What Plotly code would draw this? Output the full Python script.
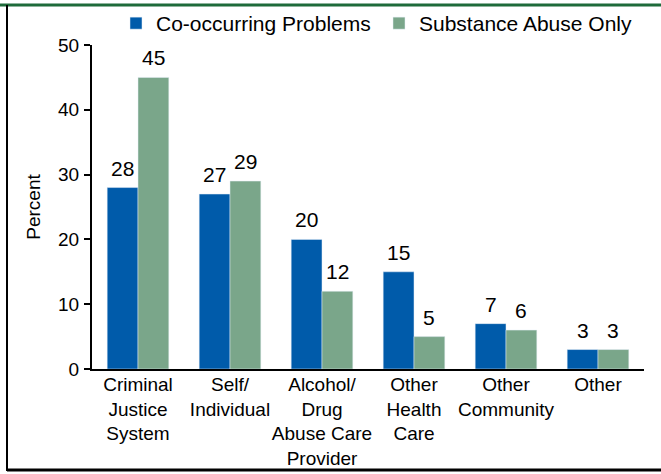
import plotly.graph_objects as go

categories = ["Criminal<br>Justice<br>System", "Self/<br>Individual",
              "Alcohol/<br>Drug<br>Abuse Care<br>Provider", "Other<br>Health<br>Care",
              "Other<br>Community", "Other"]
co_occurring = [28, 27, 20, 15, 7, 3]
substance_only = [45, 29, 12, 5, 6, 3]
series_names = ["Co-occurring Problems", "Substance Abuse Only"]
y_ticks = [0, 10, 20, 30, 40, 50]
y_title = "Percent"

BLUE = "#005BAA"
GREEN = "#7AA68A"
FONT = "Liberation Sans, Arial, sans-serif"

W, H = 661, 474
ML, MR, MT, MB = 92, 17, 45, 105
pw = W - ML - MR
ph = H - MT - MB
BARGAP = 0.33
HALF_BAR_PX = pw / len(categories) * (1 - BARGAP) / 4

def px_x(p):
    return (p - ML) / pw

def px_y(p):
    return (H - MB - p) / ph

fig = go.Figure()
for vals, name, color, sign in [(co_occurring, series_names[0], BLUE, -1),
                                (substance_only, series_names[1], GREEN, 1)]:
    fig.add_trace(go.Bar(x=categories, y=vals, name=name, marker_color=color,
                         cliponaxis=False))
    for c, v in zip(categories, vals):
        fig.add_annotation(x=c, y=v, text=str(v), showarrow=False,
                           xshift=sign * HALF_BAR_PX, yshift=6, yanchor="bottom",
                           font=dict(size=21, color="black"))

fig.update_layout(
    width=W, height=H,
    margin=dict(l=ML, r=MR, t=MT, b=MB, autoexpand=False),
    paper_bgcolor="white", plot_bgcolor="white",
    font=dict(family=FONT, size=20, color="black"),
    barmode="group", bargap=BARGAP, bargroupgap=0,
    showlegend=True,
    legend=dict(orientation="h", x=px_x(116), y=px_y(3), xanchor="left", yanchor="top",
                font=dict(size=21), itemwidth=30, entrywidth=218, entrywidthmode="pixels",
                tracegroupgap=0, bgcolor="rgba(0,0,0,0)"),
    xaxis=dict(showline=True, linecolor="black", linewidth=2, ticks="", tickangle=0,
               tickfont=dict(size=19), showgrid=False, zeroline=False, automargin=False,
               ticklabelstandoff=-3),
    yaxis=dict(range=[0, 50], tickvals=y_ticks, showline=True, linecolor="black", linewidth=2,
               ticks="outside", ticklen=6, tickwidth=2, tickcolor="black",
               tickfont=dict(size=19), showgrid=False, zeroline=False, automargin=False,
               ticklabelstandoff=1,
               title=dict(text=y_title + "\u00a0\u00a0\u00a0", font=dict(size=19), standoff=12)),
    shapes=[
        dict(type="line", xref="paper", yref="paper", x0=px_x(0), x1=px_x(W), y0=px_y(5), y1=px_y(5),
             line=dict(color="#1E6B3A", width=3)),
        dict(type="line", xref="paper", yref="paper", x0=px_x(7), x1=px_x(7), y0=px_y(5), y1=px_y(471),
             line=dict(color="black", width=2)),
        dict(type="line", xref="paper", yref="paper", x0=px_x(7), x1=px_x(W), y0=px_y(470), y1=px_y(470),
             line=dict(color="black", width=3)),
    ],
)

fig.write_html("out.html", config={"displayModeBar": False},
               post_script="document.body.style.margin='0';")
